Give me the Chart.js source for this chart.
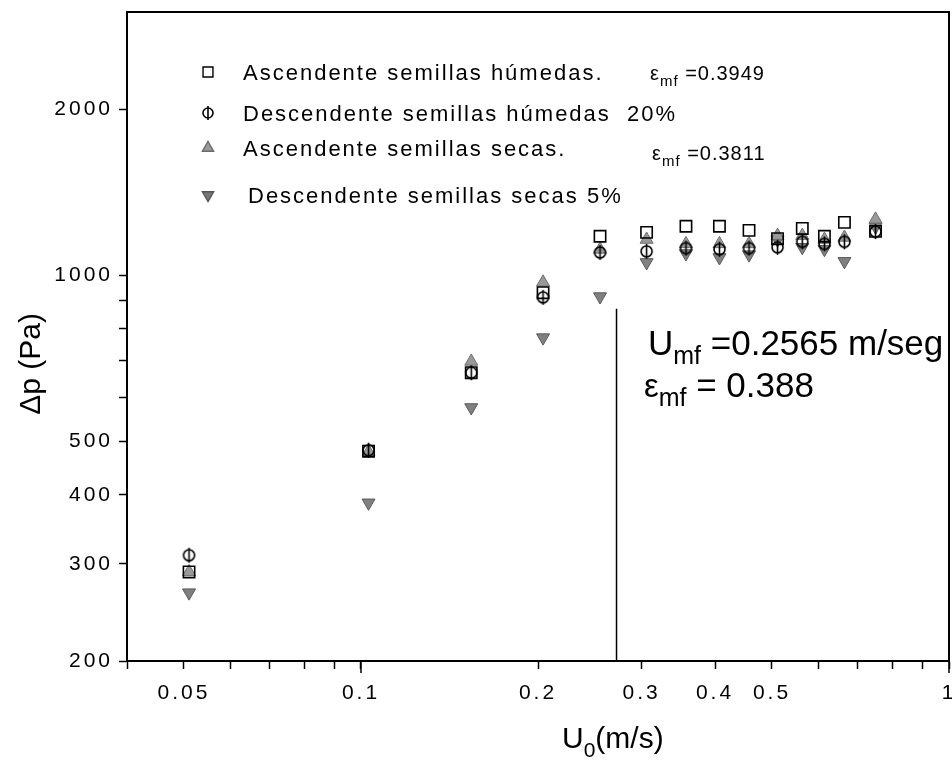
<!DOCTYPE html>
<html>
<head>
<meta charset="utf-8">
<script src="https://cdn.jsdelivr.net/npm/chart.js@4.4.0/dist/chart.umd.min.js"></script>
<style>
  html, body { margin: 0; padding: 0; background: #fff; }
  #wrap { width: 952px; height: 762px; }
</style>
</head>
<body>
<div id="wrap"><canvas id="chart" width="952" height="762"></canvas></div>
<script>
// velocidad superficial U0 (m/s)
const u0 = [0.051, 0.103, 0.154, 0.204, 0.255, 0.306, 0.357, 0.407, 0.457, 0.511, 0.563, 0.614, 0.664, 0.75];
// caida de presion (Pa)
const ascHumedas  = [290, 480, 666, 930, 1177, 1196, 1227, 1227, 1206, 1165, 1216, 1177, 1247, 1201];
const descHumedas = [311, 482, 666, 912, 1100, 1105, 1120, 1115, 1120, 1124, 1150, 1140, 1150, 1200];
const ascSecas    = [290, 479, 698, 971, 1114, 1161, 1140, 1140, 1140, 1180, 1180, 1161, 1171, 1263];
const descSecas   = [266, 387, 576, 771, 915, 1055, 1095, 1077, 1090, 1160, 1124, 1115, 1060, 1224];

// linea de velocidad minima de fluidizacion
const umfX = [0.272, 0.272];
const umfY = [200, 870];

const xTicks = [0.04, 0.05, 0.06, 0.07, 0.08, 0.09, 0.1, 0.2, 0.3, 0.4, 0.5, 0.6, 0.7, 0.8, 0.9, 1];
const xLabels = [0.05, 0.1, 0.2, 0.3, 0.4, 0.5, 1];
const yTicks = [200, 300, 400, 500, 600, 700, 800, 900, 1000, 2000];
const yLabels = [200, 300, 400, 500, 1000, 2000];

const legendRows = [
    'Ascendente semillas húmedas.',
    'Descendente semillas húmedas  20%',
    'Ascendente semillas secas.',
    'Descendente semillas secas 5%'
];

const FONT = '"Liberation Sans", Arial, sans-serif';

function toPoints(ys) {
    return u0.map((x, i) => ({ x: x, y: ys[i] }));
}

// marcador circulo con barra vertical
function phiMarker(r) {
    const c = document.createElement('canvas');
    c.width = 2 * r + 4;
    c.height = 2 * r + 6;
    const g = c.getContext('2d');
    g.strokeStyle = '#000';
    g.lineWidth = 1.6;
    g.beginPath();
    g.arc(c.width / 2, c.height / 2, r, 0, Math.PI * 2);
    g.stroke();
    g.beginPath();
    g.moveTo(c.width / 2, 1);
    g.lineTo(c.width / 2, c.height - 1);
    g.stroke();
    return c;
}
const phiData = phiMarker(5.5);
const phiLegend = phiMarker(5);

function drawRuns(ctx, x, y, runs) {
    for (const [txt, size, dy] of runs) {
        ctx.font = size + 'px ' + FONT;
        ctx.fillText(txt, x, y + dy);
        x += ctx.measureText(txt).width;
    }
}

const spacingPlugin = {
    id: 'spacing',
    beforeUpdate(chart) { chart.ctx.letterSpacing = '3px'; },
    beforeDraw(chart) { chart.ctx.letterSpacing = '3px'; }
};

const decorPlugin = {
    id: 'decor',
    afterDraw(chart) {
        const ctx = chart.ctx;
        const a = chart.chartArea;
        ctx.save();
        // marco superior y derecho
        ctx.strokeStyle = '#000';
        ctx.lineWidth = 2;
        ctx.beginPath();
        ctx.moveTo(a.left, a.top);
        ctx.lineTo(a.right, a.top);
        ctx.lineTo(a.right, a.bottom);
        ctx.stroke();

        // marcas mayores mas largas en 0.1 y 1
        const xs = chart.scales.x;
        ctx.lineWidth = 1.5;
        [0.1, 1].forEach(v => {
            const px = xs.getPixelForValue(v);
            ctx.beginPath();
            ctx.moveTo(px, a.bottom);
            ctx.lineTo(px, a.bottom + 12);
            ctx.stroke();
        });

        ctx.fillStyle = '#000';
        ctx.textBaseline = 'alphabetic';

        // leyenda
        ctx.letterSpacing = '2px';
        const mx = 208;
        const rowY = [72, 113, 148, 195];
        const textX = [243, 243, 243, 248];
        ctx.textAlign = 'left';
        legendRows.forEach((t, i) => {
            ctx.font = '22px ' + FONT;
            ctx.fillText(t, textX[i], rowY[i] + 8);
        });
        ctx.letterSpacing = '1px';
        drawRuns(ctx, 650, rowY[0] + 8, [['ε', 20, 0], ['mf', 15, 6], [' =0.3949', 20, 0]]);
        drawRuns(ctx, 652, rowY[2] + 12, [['ε', 20, 0], ['mf', 15, 6], [' =0.3811', 20, 0]]);

        const H = Chart.helpers;
        ctx.lineWidth = 1.4;
        ctx.strokeStyle = '#000';
        ctx.fillStyle = 'rgba(0,0,0,0)';
        H.drawPoint(ctx, { pointStyle: 'rect', radius: 7, rotation: 0, borderWidth: 1.4 }, mx, rowY[0]);
        ctx.drawImage(phiLegend, mx - phiLegend.width / 2, rowY[1] - phiLegend.height / 2);
        ctx.fillStyle = '#9a9a9a';
        ctx.strokeStyle = '#6a6a6a';
        H.drawPoint(ctx, { pointStyle: 'triangle', radius: 6.5, rotation: 0, borderWidth: 1 }, mx, rowY[2]);
        ctx.fillStyle = '#777';
        ctx.strokeStyle = '#555';
        H.drawPoint(ctx, { pointStyle: 'triangle', radius: 6.5, rotation: 180, borderWidth: 1 }, mx, rowY[3]);

        // anotaciones Umf y porosidad
        ctx.letterSpacing = '0px';
        ctx.fillStyle = '#000';
        drawRuns(ctx, 648, 355, [['U', 35, 0], ['mf', 25, 9], [' =0.2565 m/seg', 35, 0]]);
        drawRuns(ctx, 644, 397, [['ε', 33, 0], ['mf', 25, 9], [' = 0.388', 35, 0]]);

        // titulos de ejes
        ctx.textAlign = 'left';
        drawRuns(ctx, 562, 748, [['U', 30, 0], ['0', 21, 9], ['(m/s)', 30, 0]]);
        ctx.translate(40, 364);
        ctx.rotate(-Math.PI / 2);
        ctx.textAlign = 'center';
        ctx.font = '30px ' + FONT;
        ctx.fillText('Δp (Pa)', 0, 0);
        ctx.restore();
    }
};

new Chart(document.getElementById('chart'), {
    type: 'scatter',
    data: {
        datasets: [
            {
                label: 'Ascendente semillas húmedas',
                data: toPoints(ascHumedas),
                pointStyle: 'rect',
                pointRadius: 8,
                borderColor: '#000',
                backgroundColor: 'rgba(0,0,0,0)',
                borderWidth: 1.6
            },
            {
                label: 'Descendente semillas húmedas',
                data: toPoints(descHumedas),
                pointStyle: phiData,
                pointRadius: 6
            },
            {
                label: 'Ascendente semillas secas',
                data: toPoints(ascSecas),
                pointStyle: 'triangle',
                pointRadius: 7.5,
                backgroundColor: '#999',
                borderColor: '#6e6e6e',
                borderWidth: 1
            },
            {
                label: 'Descendente semillas secas',
                data: toPoints(descSecas),
                pointStyle: 'triangle',
                rotation: 180,
                pointRadius: 7.5,
                backgroundColor: '#808080',
                borderColor: '#5a5a5a',
                borderWidth: 1
            },
            {
                type: 'line',
                label: 'Umf',
                data: umfX.map((x, i) => ({ x: x, y: umfY[i] })),
                borderColor: '#000',
                borderWidth: 1.5,
                pointRadius: 0,
                showLine: true,
                fill: false
            }
        ]
    },
    options: {
        responsive: false,
        animation: false,
        devicePixelRatio: 1,
        layout: {
            autoPadding: false,
            padding: { top: 12, right: 3, left: 0, bottom: 0 }
        },
        plugins: {
            legend: { display: false },
            tooltip: { enabled: false }
        },
        scales: {
            x: {
                type: 'logarithmic',
                min: 0.04,
                max: 1,
                afterBuildTicks(scale) {
                    scale.ticks = xTicks.map(v => ({ value: v }));
                },
                afterFit(scale) {
                    scale.height = 101;
                    scale.paddingLeft = 0;
                    scale.paddingRight = 0;
                },
                grid: {
                    drawOnChartArea: false,
                    drawTicks: true,
                    tickLength: 8,
                    tickWidth: 1.5,
                    tickColor: '#000'
                },
                border: { display: true, color: '#000', width: 2 },
                ticks: {
                    autoSkip: false,
                    maxRotation: 0,
                    padding: 12,
                    color: '#000',
                    font: { family: FONT, size: 21 },
                    callback: (v) => xLabels.includes(v) ? String(v) : ''
                }
            },
            y: {
                type: 'logarithmic',
                min: 200,
                max: 3000,
                afterBuildTicks(scale) {
                    scale.ticks = yTicks.map(v => ({ value: v }));
                },
                afterFit(scale) {
                    scale.width = 127;
                    scale.paddingTop = 0;
                    scale.paddingBottom = 0;
                },
                grid: {
                    drawOnChartArea: false,
                    drawTicks: true,
                    tickLength: 8,
                    tickWidth: 1.5,
                    tickColor: '#000'
                },
                border: { display: true, color: '#000', width: 2 },
                ticks: {
                    autoSkip: false,
                    padding: 6,
                    color: '#000',
                    font: { family: FONT, size: 21 },
                    callback: (v) => yLabels.includes(v) ? String(v) : ''
                }
            }
        }
    },
    plugins: [spacingPlugin, decorPlugin]
});
</script>
</body>
</html>
